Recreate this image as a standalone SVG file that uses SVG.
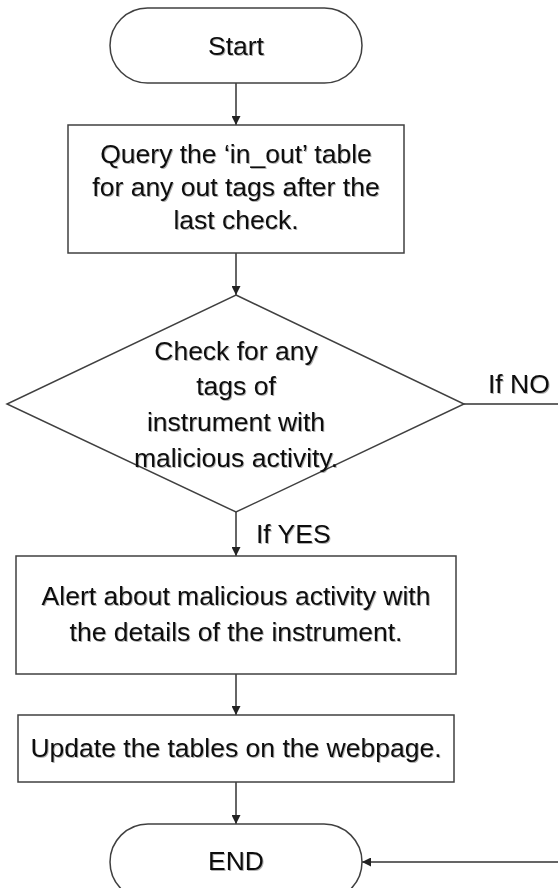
<svg xmlns="http://www.w3.org/2000/svg" width="558" height="888" viewBox="0 0 558 888">
  <style>
    .shape { fill: #ffffff; stroke: #404040; stroke-width: 1.5; }
    .wire { fill: none; stroke: #333333; stroke-width: 1.5; }
    .label { font-family: "Liberation Sans", Arial, sans-serif; font-size: 26.5px; fill: #111111; text-anchor: middle; filter: url(#textShadow); }
    .side { text-anchor: start; }
  </style>
  <defs>
    <marker id="arrow" viewBox="0 0 10 10" refX="10" refY="5" markerWidth="9" markerHeight="9" markerUnits="userSpaceOnUse" orient="auto">
      <path d="M0,0 L10,5 L0,10 Z" fill="#222222"/>
    </marker>
    <!-- soft offset shadow behind the lettering -->
    <filter id="textShadow" x="-5%" y="-20%" width="110%" height="140%">
      <feDropShadow dx="1" dy="1" stdDeviation="0.7" flood-color="#000000" flood-opacity="0.3"/>
    </filter>
  </defs>
  <rect width="558" height="888" fill="#ffffff"/>

  <!-- connectors -->
  <g id="connectors">
    <line class="wire" x1="236" y1="83" x2="236" y2="125" marker-end="url(#arrow)"/>
    <line class="wire" x1="236" y1="253" x2="236" y2="295" marker-end="url(#arrow)"/>
    <line class="wire" x1="236" y1="512" x2="236" y2="556" marker-end="url(#arrow)"/>
    <line class="wire" x1="236" y1="674" x2="236" y2="715" marker-end="url(#arrow)"/>
    <line class="wire" x1="236" y1="782" x2="236" y2="824" marker-end="url(#arrow)"/>
    <!-- "no" branch runs off to the right and returns into END -->
    <path class="wire" d="M464,404 H575 V862 H362" marker-end="url(#arrow)"/>
    <text class="label side" x="488" y="393">If NO</text>
    <text class="label side" x="256" y="543">If YES</text>
  </g>

  <g id="start">
    <rect class="shape" x="110" y="8" width="252" height="75" rx="37.5" ry="37.5"/>
    <text class="label" x="236" y="55">Start</text>
  </g>

  <g id="query">
    <rect class="shape" x="68" y="125" width="336" height="128"/>
    <text class="label" x="236" y="163">Query the ‘in_out’ table</text>
    <text class="label" x="236" y="196">for any out tags after the</text>
    <text class="label" x="236" y="229">last check.</text>
  </g>

  <g id="check">
    <polygon class="shape" points="236,295 464,404 236,512 7,404"/>
    <text class="label" x="236" y="360">Check for any</text>
    <text class="label" x="236" y="395">tags of</text>
    <text class="label" x="236" y="431">instrument with</text>
    <text class="label" x="236" y="467">malicious activity.</text>
  </g>

  <g id="alert">
    <rect class="shape" x="16" y="556" width="440" height="118"/>
    <text class="label" x="236" y="605">Alert about malicious activity with</text>
    <text class="label" x="236" y="641">the details of the instrument.</text>
  </g>

  <g id="update">
    <rect class="shape" x="18" y="715" width="436" height="67"/>
    <text class="label" x="236" y="757">Update the tables on the webpage.</text>
  </g>

  <g id="end">
    <rect class="shape" x="110" y="824" width="252" height="76" rx="38" ry="38"/>
    <text class="label" x="236" y="870">END</text>
  </g>
</svg>
